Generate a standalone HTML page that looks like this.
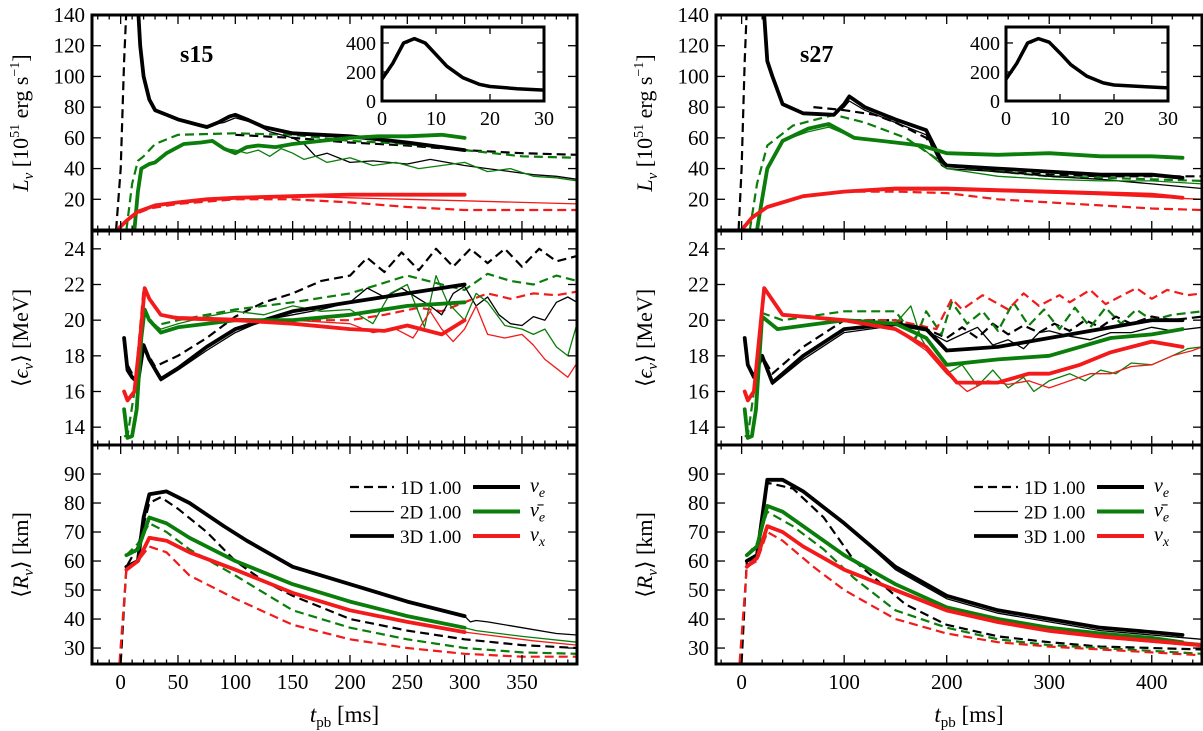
<!DOCTYPE html>
<html><head><meta charset="utf-8"><style>
body{margin:0;background:#fff;}
svg{display:block;font-family:"Liberation Serif",serif;}
</style></head><body>
<svg id="fig" width="1203" height="731" viewBox="0 0 1203 731" xmlns="http://www.w3.org/2000/svg"></svg>
<script>
// ===== s15 luminosity =====
const s15_L_e1_t=[-4,0,3,6];const s15_L_e1_v=[0,40,110,160];
const s15_L_e1b_t=[100,150,200,250,300,350,398];const s15_L_e1b_v=[62,60,57,55,52,50,49];
const s15_L_e3_t=[14,17,20,25,30,40,50,60,75,85,95,100,110,125,150,200,250,300];const s15_L_e3_v=[160,120,100,85,78,75,72,70,67,70,74,75,72,67,63,61,57,52];
const s15_L_e2_t=[14,17,20,25,30,40,50,75,90,100,115,130,150,160,170,180,200,220,250,270,300,320,340,360,380,398];const s15_L_e2_v=[160,120,100,85,78,75,72,68,70,73,70,64,60,56,48,50,44,45,43,46,42,40,38,36,35,33];
const s15_L_a1_t=[5,10,15,20,30,50,100,150,200,250,300,350,398];const s15_L_a1_v=[0,30,45,48,56,62,63,62,58,56,52,48,47];
const s15_L_a3_t=[12,15,18,25,30,40,55,70,80,90,100,110,120,135,150,175,200,225,250,280,300];const s15_L_a3_v=[0,25,40,43,44,50,56,57,58,53,50,54,55,54,56,58,60,61,61,62,60];
const s15_L_a2_t=[12,15,18,25,30,40,55,70,80,90,100,110,120,130,140,150,160,170,180,200,220,240,260,280,300,320,340,360,380,398];const s15_L_a2_v=[0,25,40,43,44,50,56,57,58,53,52,50,52,48,53,50,46,48,44,47,42,44,40,42,44,38,40,35,34,32];
const s15_L_x1_t=[-3,5,15,25,50,100,150,200,250,300,350,398];const s15_L_x1_v=[0,6,11,14,17,20,20,18,15,13,13,13];
const s15_L_x3_t=[-3,5,15,30,50,75,100,150,200,250,300];const s15_L_x3_v=[0,6,12,16,18,20,21,22,23,23,23];
const s15_L_x2_t=[-3,5,15,30,50,75,100,150,200,250,300,350,398];const s15_L_x2_v=[0,6,12,16,18,20,21,22,21,20,19,18,17];
// ===== s15 mean energy =====
const s15_E_e1_t=[3,6,10,15,20,30,50,75,100,125,150,175,200,215,230,245,260,275,290,305,320,335,350,365,380,398];const s15_E_e1_v=[19,17.5,17,17,18.5,17.4,18,19,20.2,21,21.5,22.2,22.5,23.5,22.7,23.8,22.8,24,23,24,23.2,24,23,24,23.3,23.6];
const s15_E_e3_t=[3,6,10,15,20,25,35,50,75,100,150,200,250,300];const s15_E_e3_v=[19,17.2,16.8,16.5,18.6,17.8,16.7,17.3,18.5,19.5,20.5,21,21.5,22];
const s15_E_e2_t=[3,6,10,15,20,25,35,50,75,100,125,150,175,200,215,230,245,260,270,280,290,300,310,320,330,340,350,360,370,380,390,398];const s15_E_e2_v=[19,17.2,16.8,16.5,18.6,17.8,16.6,17.2,18.3,19.3,20,20.3,20.6,21,21.8,21.3,21.8,21.2,20.8,20.3,21.5,21.9,20.8,21.3,20.3,19.8,19.7,20.2,20,21,21.3,21];
const s15_E_a1_t=[3,6,12,20,30,50,100,150,200,250,280,300,320,340,360,380,398];const s15_E_a1_v=[13.5,13.5,16,20.5,19.7,20,20.6,21,21.5,22.5,22,21.7,22.6,22.2,22,22.5,22.2];
const s15_E_a3_t=[3,6,10,14,18,21,25,35,50,75,100,150,200,250,300];const s15_E_a3_v=[15,13.4,13.5,15,19,20.6,20,19.3,19.6,19.8,20,20,20.3,20.8,21];
const s15_E_a2_t=[3,6,10,14,18,21,25,35,50,75,100,125,150,175,200,220,235,250,265,275,285,300,310,320,335,350,360,370,380,390,398];const s15_E_a2_v=[15,13.4,13.5,15,19,20.6,20,19.5,19.8,20.2,20.5,20.3,20.8,20.5,20.6,19.8,21.5,22,19.6,22.5,21,20,21.5,21,19.7,19.5,19.2,19.5,18.5,18,19.8];
const s15_E_x1_t=[3,6,12,20,25,35,50,100,150,200,230,260,280,300,320,340,360,380,398];const s15_E_x1_v=[16,15.5,16,21.8,21.2,20.3,20.1,20,20,20,20.3,20.7,20.5,21,21.5,21.2,21.5,21.4,21.6];
const s15_E_x3_t=[3,6,12,17,21,25,35,50,100,150,200,230,250,280,300];const s15_E_x3_v=[16,15.5,16,19,21.8,21.2,20.3,20.1,20,19.8,19.5,19.4,19.7,19.2,20];
const s15_E_x2_t=[3,6,12,17,21,25,35,50,100,150,200,220,240,255,270,280,290,300,310,320,335,350,360,370,380,390,398];const s15_E_x2_v=[16,15.5,16,19,21.8,21.2,20.3,20.2,20.1,20,19.8,19.3,19.5,19,20.5,19.5,18.8,19.5,20.8,19.2,19,19.2,18.6,17.8,17.3,16.8,17.6];
// ===== s15 radius =====
const s15_R_e1_t=[0,5,15,25,35,50,75,100,125,150,200,250,300,350,398];const s15_R_e1_v=[25,58,65,80,82,78,70,60,53,48,40,36,33,31,30];
const s15_R_e3_t=[5,15,20,25,40,60,90,110,150,200,250,300];const s15_R_e3_v=[58,60,75,83,84,80,72,67,58,52,46,41];
const s15_R_e2_t=[5,15,20,25,40,60,90,110,150,200,250,300,305,310,320,350,380,398];const s15_R_e2_v=[58,60,75,83,84,80,72,67,58,52,46,41,39,39.5,39,37,35,34.5];
const s15_R_a1_t=[5,15,25,40,60,100,150,200,250,300,350,398];const s15_R_a1_v=[62,66,73,70,64,55,43,37,33,30,28.5,28];
const s15_R_a3_t=[5,15,25,40,60,100,150,200,250,300];const s15_R_a3_v=[62,64,75,73,68,60,52,46,41,37];
const s15_R_a2_t=[5,15,25,40,60,100,150,200,250,300,310,350,398];const s15_R_a2_v=[62,64,75,73,68,60,52,46,41,37,36,34,32];
const s15_R_x1_t=[-1,5,15,25,40,60,100,150,200,250,300,350,398];const s15_R_x1_v=[25,57,60,65,63,55,47,38,33,30,28,27,27];
const s15_R_x3_t=[5,15,25,40,60,100,150,200,250,300];const s15_R_x3_v=[57,60,68,67,63,57,49,43,39,35.5];
const s15_R_x2_t=[5,15,25,40,60,100,150,200,250,300,320,360,398];const s15_R_x2_v=[57,60,68,67,63,57,49,43,39,35.5,34.5,32.5,31];
// ===== s27 luminosity =====
const s27_L_e1_t=[-3,0,3,6];const s27_L_e1_v=[0,40,110,160];
const s27_L_e1b_t=[70,100,130,150,180,200,250,300,350,400,449];const s27_L_e1b_v=[80,78,75,70,60,42,38,36,35,35,35];
const s27_L_e3_t=[20,25,30,40,60,90,100,105,120,150,180,195,200,250,300,350,400,430];const s27_L_e3_v=[160,110,100,82,76,75,82,87,80,72,65,45,42,40,38,36,36,34];
const s27_L_e2_t=[20,25,30,40,60,90,100,105,120,150,180,195,200,250,300,350,400,449];const s27_L_e2_v=[160,110,100,82,76,75,80,84,78,70,62,42,40,38,35,33,30,27];
const s27_L_a1_t=[8,15,25,50,90,120,160,200,250,300,400,449];const s27_L_a1_v=[0,30,55,68,75,70,60,42,38,35,33,32];
const s27_L_a3_t=[15,20,25,40,65,85,110,150,175,200,250,300,350,400,430];const s27_L_a3_v=[0,20,40,58,66,69,60,57,55,50,49,50,48,48,47];
const s27_L_a2_t=[15,20,25,40,65,85,110,150,175,200,250,300,350,400,449];const s27_L_a2_v=[0,20,40,58,64,67,60,57,54,40,35,33,32,32,30];
const s27_L_x1_t=[0,10,25,60,100,150,200,250,300,350,400,449];const s27_L_x1_v=[0,8,15,22,25,25,24,20,18,16,14,13];
const s27_L_x3_t=[0,10,25,60,100,150,200,250,300,350,400,430];const s27_L_x3_v=[0,8,15,22,25,27,27,26,25,24,23,21];
const s27_L_x2_t=[0,10,25,60,100,150,200,250,300,350,400,449];const s27_L_x2_v=[0,8,15,22,25,26,26,25,24,23,21.5,20];
// ===== s27 mean energy =====
const s27_E_e1_t=[3,6,12,20,30,60,100,150,180,200,215,230,245,260,275,290,305,320,335,350,365,380,400,420,449];const s27_E_e1_v=[19,17.5,16.8,18,17,18.5,20,20,19.5,19,19.6,19,19.8,19.2,19.7,19.3,19.8,19.4,20,19.6,20.2,19.8,20.2,20,20.2];
const s27_E_e3_t=[3,6,12,20,30,60,100,150,180,200,250,300,350,400,430];const s27_E_e3_v=[19,17.5,16.8,18,16.5,18,19.5,19.8,19.5,18.3,18.5,19,19.5,20,20];
const s27_E_e2_t=[3,6,12,20,30,60,100,150,180,200,215,230,245,260,275,290,300,320,340,360,380,400,420,449];const s27_E_e2_v=[19,17.5,16.8,18,16.4,17.8,19.3,19.7,19.4,18.8,19.2,19.6,18.6,18.9,18.4,19.3,19.4,19.1,18.9,19.3,19.3,19.6,19.4,19.6];
const s27_E_a1_t=[3,6,12,20,40,100,150,170,180,195,205,220,235,250,265,280,295,310,325,340,355,370,385,400,420,449];const s27_E_a1_v=[13.5,13.5,16,20.4,20,20.5,20.5,19,20.5,19.2,21,19.8,20.5,19.4,21,19.7,20.6,19.5,20.7,19.6,20.7,19.8,20.6,20,20.3,20.5];
const s27_E_a3_t=[3,6,10,14,20,35,100,150,180,200,250,300,330,360,400,430];const s27_E_a3_v=[15,13.4,13.5,15,20.2,19.5,20,19.8,19,17.5,17.8,18,18.5,19,19.2,19.5];
const s27_E_a2_t=[3,6,10,14,20,35,100,150,165,175,185,200,215,230,245,260,275,285,300,320,335,350,365,380,400,420,435,449];const s27_E_a2_v=[15,13.4,13.5,15,20.2,19.5,20,19.8,20.8,19,18,17,17.5,16.3,17.2,16.2,16.8,16,16.6,17,16.6,17.2,17,17.6,17.5,18,18.4,18.5];
const s27_E_x1_t=[3,6,12,22,40,100,150,190,205,215,235,260,275,290,310,320,340,355,375,385,400,415,435,449];const s27_E_x1_v=[16,15.5,16,21.8,20.3,20,20,19.5,21.2,20.6,21.4,20.6,21.5,20.8,21.4,21,21.7,20.9,21.5,21.8,21.2,21.7,21.4,21.5];
const s27_E_x3_t=[3,6,12,22,40,100,150,180,210,250,280,300,330,360,400,430];const s27_E_x3_v=[16,15.5,16,21.8,20.3,20,19.5,18.5,16.5,16.5,17,17,17.5,18.2,18.8,18.5];
const s27_E_x2_t=[3,6,12,22,40,100,150,180,200,220,240,260,280,300,320,340,360,380,400,420,440,449];const s27_E_x2_v=[16,15.5,16,21.8,20.3,20,19.5,18.3,17,16,16.6,16.4,16.6,16.2,16.6,17,17,17.4,17.5,18,18.3,18.5];
// ===== s27 radius =====
const s27_R_e1_t=[0,5,15,25,50,80,110,160,200,250,300,350,400,449];const s27_R_e1_v=[25,60,62,87,85,75,60,45,38,34,32,30.5,30,29.5];
const s27_R_e3_t=[5,15,25,40,60,100,150,200,250,300,350,400,430];const s27_R_e3_v=[60,62,88,88,84,73,58,48,43,40,37,35.5,34.5];
const s27_R_e2_t=[5,15,25,40,60,100,150,200,250,300,350,400,449];const s27_R_e2_v=[60,62,88,88,84,73,57,47,42,39,36,34.5,33];
const s27_R_a1_t=[5,15,25,50,80,110,150,200,250,300,350,400,449];const s27_R_a1_v=[62,66,77,72,64,54,43,37,33,31,30,29,28];
const s27_R_a3_t=[5,15,25,40,60,100,150,200,250,300,350,400,430];const s27_R_a3_v=[62,65,79,77,72,62,52,44,40,37,35,33.5,32];
const s27_R_a2_t=[5,15,25,40,60,100,150,200,250,300,350,400,449];const s27_R_a2_v=[62,65,79,77,72,62,52,44,40,37,35,33,31.5];
const s27_R_x1_t=[-2,5,15,25,40,70,100,150,200,250,300,350,400,449];const s27_R_x1_v=[25,58,60,70,67,58,50,40,35,32,30.5,29.5,28.5,27.5];
const s27_R_x3_t=[5,15,25,40,60,100,150,200,250,300,350,400,449];const s27_R_x3_v=[58,61,72,70,65,57,50,43,39,36,34,32.5,31];
const s27_R_x2_t=[5,15,25,40,60,100,150,200,250,300,350,400,449];const s27_R_x2_v=[58,61,72,70,65,57,49.5,42.5,38.5,35.5,33.5,32,30.5];
// ===== insets =====
const ins15_t=[0,2,4,6,8,10,12,15,18,20,25,30];const ins15_v=[150,260,400,430,400,320,240,160,115,100,85,75];
const ins15d_t=[0,2,4,6];const ins15d_v=[150,260,390,430];
const ins27_t=[0,2,4,6,8,10,12,15,18,20,25,30];const ins27_v=[150,260,400,430,405,330,250,170,125,110,100,90];
const ins27d_t=[0,2,4,6];const ins27d_v=[150,260,390,430];
// tick labels
const xTicks15=[0,50,100,150,200,250,300,350];
const xTicks27=[0,100,200,300,400];
const yTicksL=[20,40,60,80,100,120,140];
const yTicksE=[14,16,18,20,22,24];
const yTicksR=[30,40,50,60,70,80,90];
const insYTicks=[0,200,400];
const insXTicks=[0,10,20,30];

const NS="http://www.w3.org/2000/svg";
const svg=document.getElementById('fig');
function mk(tag,attrs,parent){const e=document.createElementNS(NS,tag);for(const k in attrs)e.setAttribute(k,attrs[k]);(parent||svg).appendChild(e);return e;}
const COL={e:'#000000',a:'#0a7d0a',x:'#f21a1a'};
const STY={1:{w:2.2,d:'9,5'},2:{w:1.3,d:''},3:{w:3.8,d:''}};
const rows={L:{y0:15,y1:230,min:0,max:140,ticks:yTicksL},E:{y0:231,y1:445,min:13,max:25,ticks:yTicksE},R:{y0:445,y1:664,min:24.5,max:100,ticks:yTicksR}};
const cols=[{key:'s15',x0:92,x1:577,min:-25,max:398,ticks:xTicks15,minor:10},{key:'s27',x0:716,x1:1202,min:-25,max:449,ticks:xTicks27,minor:20}];
let clipId=0;
function sx(c,t){return c.x0+(t-c.min)/(c.max-c.min)*(c.x1-c.x0);}
function sy(r,v){return r.y1-(v-r.min)/(r.max-r.min)*(r.y1-r.y0);}
cols.forEach((c,ci)=>{
  ['L','E','R'].forEach((rk,ri)=>{
    const r=rows[rk];
    const g=mk('g',{});
    
    
    const cid='clip'+(clipId++);
    const cp=mk('clipPath',{id:cid},g);mk('rect',{x:c.x0,y:r.y0,width:c.x1-c.x0,height:r.y1-r.y0},cp);
    const lg=mk('g',{'clip-path':'url(#'+cid+')'},g);
    [1,2,3].forEach(dim=>{['e','a','x'].forEach(fl=>{
      const names=[c.key+'_'+rk+'_'+fl+dim];
      if(rk==='L'&&fl==='e'&&dim===1)names.push(c.key+'_'+rk+'_e1b');
      names.forEach(nm=>{
        const T=eval(nm+'_t'),V=eval(nm+'_v');
        let d='';T.forEach((t,i)=>{d+=(i?'L':'M')+sx(c,t).toFixed(1)+','+sy(r,V[i]).toFixed(1);});
        const p=mk('path',{d:d,fill:'none',stroke:COL[fl],'stroke-width':STY[dim].w,'stroke-linejoin':'round','stroke-linecap':dim===1?'butt':'round'},lg);
        if(STY[dim].d)p.setAttribute('stroke-dasharray',STY[dim].d);
        
        
      });
    });});
    for(let t=Math.ceil(c.min/c.minor)*c.minor;t<=c.max;t+=c.minor){
      const X=sx(c,t);const major=c.ticks.includes(t);const L=major?9:4.5;
      mk('line',{x1:X,x2:X,y1:r.y1,y2:r.y1-L,stroke:'#000','stroke-width':1.3},g);
      mk('line',{x1:X,x2:X,y1:r.y0,y2:r.y0+L,stroke:'#000','stroke-width':1.3},g);
    }
    r.ticks.forEach(v=>{const Y=sy(r,v);
      mk('line',{x1:c.x0,x2:c.x0+9,y1:Y,y2:Y,stroke:'#000','stroke-width':1.3},g);
      mk('line',{x1:c.x1,x2:c.x1-9,y1:Y,y2:Y,stroke:'#000','stroke-width':1.3},g);
      const tx=mk('text',{x:c.x0-7,y:Y+7,'text-anchor':'end','font-size':21},g);tx.textContent=v;
      
      
    });
    mk('rect',{x:c.x0,y:r.y0,width:c.x1-c.x0,height:r.y1-r.y0,fill:'none',stroke:'#000','stroke-width':3},g);
  });
  c.ticks.forEach(t=>{const tx=mk('text',{x:sx(c,t),y:689,'text-anchor':'middle','font-size':21});tx.textContent=t;
    
    });
  const xl=mk('text',{x:(c.x0+c.x1)/2+10,y:722,'text-anchor':'middle','font-size':23});
  xl.innerHTML='<tspan font-style="italic">t</tspan><tspan font-size="15" dy="5">pb</tspan><tspan dy="-5"> [ms]</tspan>';
  
  
  const yx=c.x0-64;
  const t1=mk('text',{transform:'translate('+yx+',123) rotate(-90)','text-anchor':'middle','font-size':22});
  t1.innerHTML='<tspan font-style="italic">L</tspan><tspan font-style="italic" font-size="15" dy="5">ν</tspan><tspan dy="-5"> [10</tspan><tspan font-size="14" dy="-9">51</tspan><tspan dy="9"> erg s</tspan><tspan font-size="14" dy="-9">−1</tspan><tspan dy="9">]</tspan>';
  
  
  const t2=mk('text',{transform:'translate('+yx+',338) rotate(-90)','text-anchor':'middle','font-size':22});
  t2.innerHTML='⟨<tspan font-style="italic">ϵ</tspan><tspan font-style="italic" font-size="15" dy="5">ν</tspan><tspan dy="-5">⟩ [MeV]</tspan>';
  
  
  const t3=mk('text',{transform:'translate('+yx+',555) rotate(-90)','text-anchor':'middle','font-size':22});
  t3.innerHTML='⟨<tspan font-style="italic">R</tspan><tspan font-style="italic" font-size="15" dy="5">ν</tspan><tspan dy="-5">⟩ [km]</tspan>';
  
  
  if(ci===0){const ml=mk('text',{x:180,y:62,'font-size':24,'font-weight':'bold'});ml.textContent='s15';
    
    }
  else{const ml=mk('text',{x:800,y:62,'font-size':24,'font-weight':'bold'});ml.textContent='s27';
    
    }
  const off=ci===0?0:624;
  const ic={x0:382+off,x1:544+off,min:0,max:30},ir={y0:27,y1:101,min:0,max:510};
  const ig=mk('g',{});
  
  
  mk('rect',{x:ic.x0,y:ir.y0,width:ic.x1-ic.x0,height:ir.y1-ir.y0,fill:'#fff'},ig);
  const IT=ci===0?[ins15_t,ins15_v,ins15d_t,ins15d_v]:[ins27_t,ins27_v,ins27d_t,ins27d_v];
  [[IT[2],IT[3],true],[IT[0],IT[1],false]].forEach(s=>{let d='';s[0].forEach((t,i)=>{d+=(i?'L':'M')+sx(ic,t).toFixed(1)+','+sy(ir,s[1][i]).toFixed(1);});
    const p=mk('path',{d:d,fill:'none',stroke:'#000','stroke-width':s[2]?2:3.5,'stroke-linejoin':'round'},ig);
    if(s[2])p.setAttribute('stroke-dasharray','7,4');
    
    });
  insYTicks.forEach(v=>{const Y=sy(ir,v);mk('line',{x1:ic.x0,x2:ic.x0+7,y1:Y,y2:Y,stroke:'#000','stroke-width':1.3},ig);mk('line',{x1:ic.x1,x2:ic.x1-7,y1:Y,y2:Y,stroke:'#000','stroke-width':1.3},ig);
    const tx=mk('text',{x:ic.x0-6,y:Y+7,'text-anchor':'end','font-size':20},ig);tx.textContent=v;
    
    });
  insXTicks.forEach(t=>{const X=sx(ic,t);mk('line',{x1:X,x2:X,y1:ir.y1,y2:ir.y1-7,stroke:'#000','stroke-width':1.3},ig);mk('line',{x1:X,x2:X,y1:ir.y0,y2:ir.y0+7,stroke:'#000','stroke-width':1.3},ig);
    const tx=mk('text',{x:X,y:125,'text-anchor':'middle','font-size':20},ig);tx.textContent=t;
    
    });
  mk('rect',{x:ic.x0,y:ir.y0,width:ic.x1-ic.x0,height:ir.y1-ir.y0,fill:'none',stroke:'#000','stroke-width':3},ig);
  const lx=ci===0?348:972;
  const leg=mk('g',{});
  
  
  const dims=[['1D 1.00',2.2,'9,5'],['2D 1.00',1.3,''],['3D 1.00',3.8,'']];
  const fls=[['e','e',''],['a','e','bar'],['x','x','']];
  [0,1,2].forEach(i=>{const Y=487+i*24.5;
    const l=mk('line',{x1:lx+2,x2:lx+46,y1:Y,y2:Y,stroke:'#000','stroke-width':dims[i][1]},leg);if(dims[i][2])l.setAttribute('stroke-dasharray',dims[i][2]);
    
    
    const tx=mk('text',{x:lx+52,y:Y+7,'font-size':19},leg);tx.textContent=dims[i][0];
    
    
    const l2=mk('line',{x1:lx+125,x2:lx+172,y1:Y,y2:Y,stroke:COL[fls[i][0]],'stroke-width':4},leg);
    
    
    const t2=mk('text',{x:lx+182,y:Y+5,'font-size':20,'font-style':'italic'},leg);
    t2.innerHTML=(fls[i][2]?'ν\u0304':'ν')+'<tspan font-size="14" dy="5">'+fls[i][1]+'</tspan>';
    
    
  });
});
</script>
</body></html>
